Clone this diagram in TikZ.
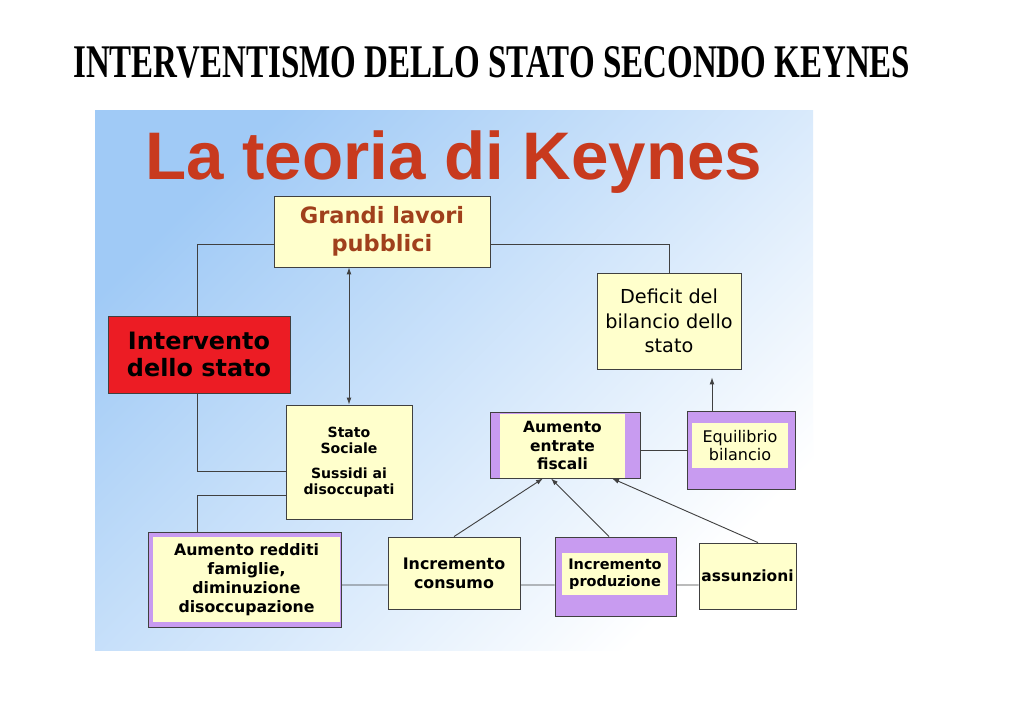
\documentclass[tikz,border=0pt]{standalone}
\usepackage{fontspec}
\setmainfont{DejaVu Sans}
\newfontfamily\slidefont{Liberation Sans}
\newfontfamily\pagefont{Liberation Serif}
\usetikzlibrary{arrows.meta}
\newdimen\px \px=0.025cm
\definecolor{slideblue}{RGB}{160,202,246}
\definecolor{boxyellow}{RGB}{255,255,204}
\definecolor{boxpurple}{RGB}{200,155,240}
\definecolor{boxred}{RGB}{236,28,36}
\definecolor{titlered}{RGB}{200,58,30}
\definecolor{grandired}{RGB}{160,64,28}
\definecolor{linegray}{RGB}{64,64,64}

\begin{document}
\begin{tikzpicture}[x=0.025cm, y=-0.025cm,
  box/.style={draw=linegray, line width=0.6pt, fill=boxyellow, align=center, inner sep=0pt},
  purplebox/.style={draw=linegray, line width=0.6pt, fill=boxpurple, inner sep=0pt},
  innerbox/.style={fill=boxyellow, align=center, inner sep=0pt},
  link/.style={draw=linegray, line width=0.65pt},
  arrowlink/.style={link, -{Latex[length=5pt,width=3.5pt]}}]
\useasboundingbox (0,0) rectangle (1024,715);
\fill[white] (0,0) rectangle (1024,715);

% page title and slide
\node[anchor=base west, inner sep=0pt] (pagetitle) at (73,78) {\resizebox{837\px}{31\px}{\pagefont\bfseries INTERVENTISMO DELLO STATO SECONDO KEYNES}};
\shade[top color=slideblue, bottom color=white, shading angle=45] (95,111) rectangle (813,650);
\node[anchor=base west, inner sep=0pt, text=titlered] (slidetitle) at (145,180) {\resizebox{617\px}{!}{\slidefont\bfseries La teoria di Keynes}};

% boxes
\node[box, minimum width=216*\px, minimum height=71*\px, text=grandired, font=\bfseries\fontsize{16}{20}\selectfont] (grandi) at (382,231.5) {Grandi lavori\\pubblici};
\node[box, fill=boxred, minimum width=182*\px, minimum height=77*\px, font=\bfseries\fontsize{17}{19.5}\selectfont] (interv) at (199,354.5) {Intervento\\dello stato};
\node[box, minimum width=144*\px, minimum height=96*\px, font=\fontsize{13.7}{17.5}\selectfont] (deficit) at (669,321) {Deficit del\\bilancio dello\\stato};
\node[box, minimum width=126*\px, minimum height=114*\px, font=\bfseries\fontsize{10}{11.6}\selectfont] (stato) at (349,462) {Stato\\Sociale\\[6pt]Sussidi ai\\disoccupati};

\node[purplebox, minimum width=150*\px, minimum height=66*\px] (aument) at (565,445) {};
\node[innerbox, minimum width=125*\px, minimum height=64*\px, font=\bfseries\fontsize{11}{13.2}\selectfont] (aumenttxt) at (562.5,445.5) {Aumento\\entrate\\fiscali};
\node[purplebox, minimum width=108*\px, minimum height=78*\px] (equil) at (741,450) {};
\node[innerbox, minimum width=96*\px, minimum height=45*\px, font=\fontsize{11.4}{12.8}\selectfont] (equiltxt) at (740,445.5) {Equilibrio\\bilancio};

\node[purplebox, minimum width=193*\px, minimum height=95*\px] (aumred) at (244.5,579.5) {};
\node[innerbox, minimum width=187*\px, minimum height=85*\px, font=\bfseries\fontsize{11.2}{13.6}\selectfont] (aumredtxt) at (246.5,579.5) {Aumento redditi\\famiglie,\\diminuzione\\disoccupazione};
\node[box, minimum width=132*\px, minimum height=72*\px, font=\bfseries\fontsize{11.3}{13.6}\selectfont] (consumo) at (454,573) {Incremento\\consumo};
\node[purplebox, minimum width=121*\px, minimum height=79*\px] (produz) at (615.5,576.5) {};
\node[innerbox, minimum width=106*\px, minimum height=42*\px, font=\bfseries\fontsize{10.3}{12}\selectfont] (produztxt) at (615,574) {Incremento\\produzione};
\node[box, minimum width=97*\px, minimum height=66*\px, font=\bfseries\fontsize{11}{12}\selectfont] (assunz) at (747.5,576) {assunzioni};

% connectors
\draw[link] ([yshift=-12.5*\px]grandi.west) -| ([xshift=-2*\px]interv.north);
\draw[link] ([yshift=-12.5*\px]grandi.east) -| (deficit.north);
\draw[link, {Latex[length=5pt,width=3.5pt]}-{Latex[length=5pt,width=3.5pt]}] (grandi.south -| stato.north) -- (stato.north);
\draw[link] ([xshift=-2*\px]interv.south) |- ([yshift=-9*\px]stato.west);
\draw[link] ([yshift=-33*\px]stato.west) -| ([xshift=-47.5*\px]aumred.north);
\draw[link] ([yshift=-5.5*\px]aumred.east) -- ([yshift=-12*\px]consumo.west);
\draw[link] ([yshift=-12*\px]consumo.east) -- ([yshift=-8.5*\px]produz.west);
\draw[link] ([yshift=-8.5*\px]produz.east) -- ([yshift=-9*\px]assunz.west);
\draw[arrowlink] (consumo.north) -- ([xshift=-22*\px]aument.south);
\draw[arrowlink] ([xshift=-6.5*\px]produz.north) -- ([xshift=-14*\px]aument.south);
\draw[arrowlink] ([xshift=10.5*\px]assunz.north) -- ([xshift=47*\px]aument.south);
\draw[link] (equil.west) -- (equil.west -| aument.east);
\draw[arrowlink, shorten >=8*\px] ([xshift=-29*\px]equil.north) -- ([xshift=-29*\px]equil.north |- deficit.south);
\end{tikzpicture}
\end{document}
